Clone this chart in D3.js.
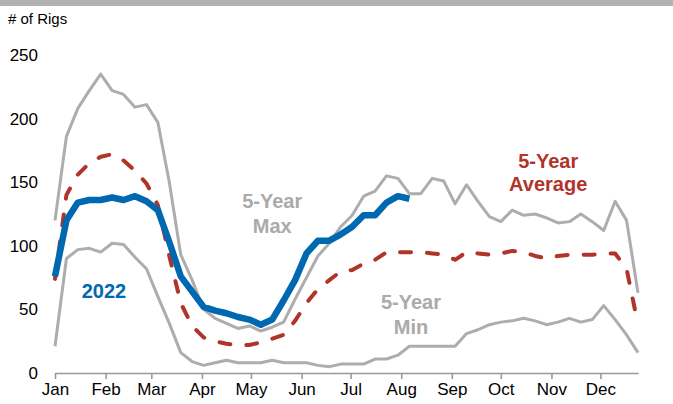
<!DOCTYPE html>
<html>
<head>
<meta charset="utf-8">
<script src="https://cdn.jsdelivr.net/npm/d3@7"></script>
<style>
  body { margin: 0; background: #fff; }
  svg { font-family: "Liberation Sans", Arial, sans-serif; }
</style>
</head>
<body>
<div id="chart"></div>
<script>
// weekly rig counts, week 0 = Jan 1
const maxRigs = [120, 186, 208, 222, 235, 222, 219, 209, 211, 197, 150, 93, 73, 50, 43, 39, 35, 37, 33, 36,
  40, 58, 75, 92, 102, 115, 124, 139, 143, 155, 153, 141, 141, 153, 151, 133, 148, 135, 123, 119,
  128, 124, 125, 122, 118, 119, 125, 119, 112, 135, 120, 63];
const minRigs = [21, 90, 97, 98, 95, 102, 101, 91, 82, 60, 39, 16, 9, 6, 8, 10, 8, 8, 8, 10,
  8, 8, 8, 6, 5, 7, 7, 7, 11, 11, 14, 21, 21, 21, 21, 21, 31, 34, 38, 40,
  41, 43, 41, 38, 40, 43, 40, 42, 53, 42, 30, 16];
const avgRigs = [74, 140, 156, 165, 170, 172, 167, 159, 149, 132, 92, 55, 37, 28, 25, 23, 22, 22, 24, 27,
  30, 41, 55, 66, 73, 80, 81, 86, 89, 95, 95, 95, 95, 94, 93, 89, 95, 94, 93, 94,
  96, 95, 92, 90, 92, 93, 93, 93, 94, 94, 82, 38];
const rigs2022 = [76, 120, 134, 136, 136, 138, 136, 139, 135, 128, 103, 76, 64, 52, 49, 47, 44, 42, 38, 42,
  57, 73, 94, 104, 104, 109, 115, 124, 124, 134, 139, 137];
const yTicks = [0, 50, 100, 150, 200, 250];

const width = 673;
const height = 404;
const margin = { top: 55, right: 35, bottom: 31, left: 55 };

const weekDate = (i) => d3.timeDay.offset(new Date(2021, 0, 1), i * 7);

const svg = d3
  .select("#chart")
  .append("svg")
  .attr("width", width)
  .attr("height", height);

// grey band across the top
svg.append("rect").attr("x", 0).attr("y", 0).attr("width", width).attr("height", 6).attr("fill", "#b2b2b2");

const x = d3
  .scaleTime()
  .domain([weekDate(0), weekDate(51)])
  .range([margin.left, width - margin.right]);

const y = d3
  .scaleLinear()
  .domain([0, 250])
  .range([height - margin.bottom, margin.top]);

// y labels only
const yAxis = svg
  .append("g")
  .attr("transform", "translate(38,0)")
  .call(d3.axisLeft(y).tickValues(yTicks).tickSize(0).tickPadding(0));
yAxis.select(".domain").remove();
yAxis.selectAll("text").attr("font-size", 17).attr("fill", "#000").attr("font-family", "Liberation Sans, Arial, sans-serif");

// x axis
const xAxis = svg
  .append("g")
  .attr("transform", `translate(0,${y(0)})`)
  .call(d3.axisBottom(x).ticks(d3.timeMonth.every(1)).tickFormat(d3.timeFormat("%b")).tickSize(6).tickSizeOuter(0).tickPadding(4));
xAxis.select(".domain").attr("stroke", "#999").attr("stroke-width", 1.6);
xAxis.selectAll(".tick line").attr("stroke", "#999").attr("stroke-width", 1.6);
xAxis.selectAll("text").attr("font-size", 17).attr("fill", "#000").attr("font-family", "Liberation Sans, Arial, sans-serif");

svg.append("text").attr("x", 8).attr("y", 24).attr("font-size", 15).text("# of Rigs");

const line = d3
  .line()
  .x((d, i) => x(weekDate(i)))
  .y((d) => y(d));

const drawLine = (data, color, w, dash) => {
  svg
    .append("path")
    .datum(data)
    .attr("fill", "none")
    .attr("stroke", color)
    .attr("stroke-width", w)
    .attr("stroke-linejoin", "round")
    .attr("stroke-linecap", dash ? "round" : "butt")
    .attr("stroke-dasharray", dash || null)
    .attr("d", line);
};

drawLine(maxRigs, "#adadad", 3);
drawLine(minRigs, "#adadad", 3);
drawLine(avgRigs, "#b0342a", 4, "11 16");
drawLine(rigs2022, "#0068b1", 6.5);

// labels
const labels = [
  { lines: ["5-Year", "Max"], week: 19, value: 130, gap: 25, color: "#aaaaaa" },
  { lines: ["5-Year", "Average"], week: 43.1, value: 161, gap: 23, color: "#b0342a" },
  { lines: ["5-Year", "Min"], week: 31.1, value: 50, gap: 25, color: "#aaaaaa" },
  { lines: ["2022"], week: 4.3, value: 59, gap: 0, color: "#0068b1" },
];

labels.forEach((l) => {
  const t = svg
    .append("text")
    .attr("text-anchor", "middle")
    .attr("font-size", 20)
    .attr("font-weight", "bold")
    .attr("fill", l.color);
  l.lines.forEach((s, k) => {
    t.append("tspan")
      .attr("x", x(d3.timeDay.offset(weekDate(0), Math.round(l.week * 7))))
      .attr("y", y(l.value) + k * l.gap)
      .text(s);
  });
});
</script>
</body>
</html>
